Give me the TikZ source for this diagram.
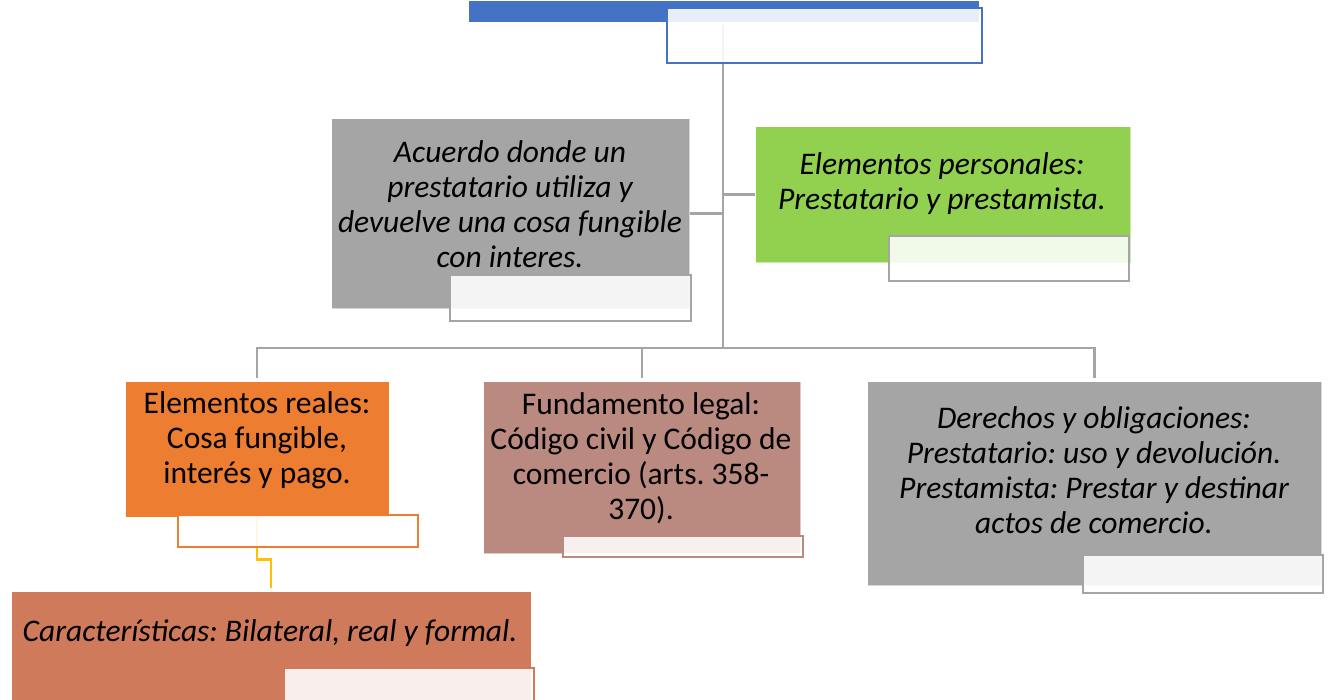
\documentclass[tikz,border=0pt]{standalone}
\usepackage{fontspec}
\setmainfont{Carlito}
\frenchspacing
\pgfdeclarelayer{background}
\pgfsetlayers{background,main}
\definecolor{cblue}{HTML}{4472C4}
\definecolor{cgray}{HTML}{A5A5A5}
\definecolor{cgreen}{HTML}{92D050}
\definecolor{corange}{HTML}{ED7D31}
\definecolor{cbrown}{HTML}{BA8A80}
\definecolor{csalmon}{HTML}{D07A5C}
\definecolor{cyellow}{HTML}{FFC000}
\tikzset{
  box/.style={rectangle, inner sep=0pt, anchor=north west, draw=white, draw opacity=0.55, line width=1.2pt},
  lbl/.style={rectangle, inner sep=0pt, anchor=north west, fill=white, fill opacity=0.88, line width=2pt},
  txt/.style={align=center, inner sep=0pt, font=\fontsize{31.5}{35}\selectfont},
  itxt/.style={txt, font=\fontsize{31.5}{35}\selectfont\itshape},
  conn/.style={draw=cgray, line width=2.6pt},
  yconn/.style={draw=cyellow, line width=2.6pt}
}
\begin{document}
\begin{tikzpicture}[x=1pt,y=-1pt]
\useasboundingbox (0,0) rectangle (1329,700);
\begin{pgfonlayer}{background}
\fill[white] (0,0) rectangle (1329,700);
\end{pgfonlayer}
% top
\node[box, fill=cblue, draw=none, minimum width=510pt, minimum height=21pt] (top) at (468,0) {};
\node[lbl, draw=cblue, minimum width=315pt, minimum height=55pt] (toplbl) at (666,7) {};
% box 1
\node[box, fill=cgray, minimum width=358pt, minimum height=190pt] (b1) at (331,118) {};
\node[lbl, draw=cgray, minimum width=241pt, minimum height=46pt] (b1lbl) at (449,274) {};
\node[itxt] (t1) at (510,204) {Acuerdo donde un\\prestatario utiliza y\\devuelve una cosa fungible\\con interes.};
% green
\node[box, fill=cgreen, minimum width=375pt, minimum height=136pt] (gr) at (755,126) {};
\node[lbl, draw=cgray, minimum width=240pt, minimum height=45pt] (grlbl) at (888,235) {};
\node[itxt] (t2) at (942,184) {Elementos personales:\\Prestatario y prestamista.};
% orange
\node[box, fill=corange, draw=none, minimum width=263pt, minimum height=135pt] (or) at (125,381) {};
\node[lbl, draw=corange, minimum width=240pt, minimum height=32pt] (orlbl) at (177,514) {};
\node[txt] (t3) at (257,440) {Elementos reales:\\Cosa fungible,\\interés y pago.};
% brown
\node[box, fill=cbrown, minimum width=317pt, minimum height=172pt] (br) at (483,381) {};
\node[lbl, draw=cbrown, minimum width=240pt, minimum height=21pt] (brlbl) at (562,535) {};
\node[txt] (t4) at (641,458) {Fundamento legal:\\Código civil y Código de\\comercio (arts. 358-\\370).};
% gray 3
\node[box, fill=cgray, minimum width=454pt, minimum height=204pt] (g3) at (867,381) {};
\node[lbl, draw=cgray, minimum width=240pt, minimum height=38pt] (g3lbl) at (1082,554) {};
\node[itxt] (t5) at (1094,470) {Derechos y obligaciones:\\Prestatario: uso y devolución.\\Prestamista: Prestar y destinar\\actos de comercio.};
% salmon
\node[box, fill=csalmon, draw=none, minimum width=519pt, minimum height=115pt] (sa) at (11,591) {};
\node[lbl, draw=csalmon, minimum width=250pt, minimum height=40pt] (salbl) at (283,667) {};
\node[itxt] (t6) at (270,633) {Características: Bilateral, real y formal.};
% connectors
\coordinate (trunktop) at (723,25);
\coordinate (hub) at (723,348);
\begin{pgfonlayer}{background}
\draw[conn] (trunktop) -- (hub);
\draw[conn] (b1.east) -- (b1.east -| hub);
\draw[conn] (gr.west) -- (gr.west -| hub);
\draw[conn] ([yshift=3pt]or.north) |- (hub) -| ([yshift=3pt]g3.north);
\draw[conn] ([yshift=3pt]br.north) -- (br.north |- hub);
\draw[yconn] (or.south) -- ++(0,42) -| ([yshift=3pt]sa.north);
\end{pgfonlayer}
\end{tikzpicture}
\end{document}
